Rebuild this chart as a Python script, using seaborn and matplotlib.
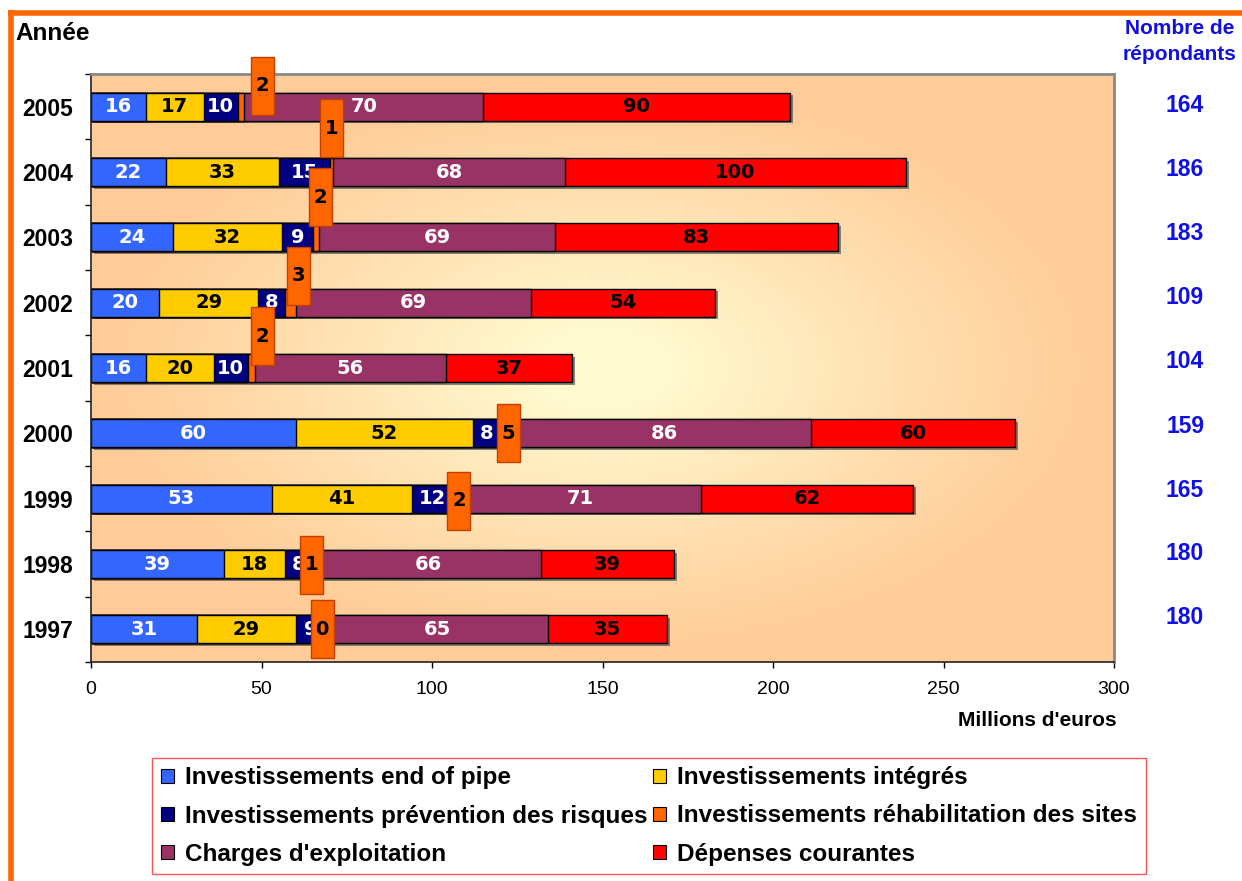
import numpy as np
import pandas as pd
import matplotlib
matplotlib.use("Agg")
import matplotlib.pyplot as plt
import matplotlib.patheffects as pe
from matplotlib.patches import Rectangle, Patch
from matplotlib.lines import Line2D
import seaborn as sns

# ---------------- data ----------------
years = ["2005", "2004", "2003", "2002", "2001", "2000", "1999", "1998", "1997"]
end_of_pipe = [16, 22, 24, 20, 16, 60, 53, 39, 31]
integres = [17, 33, 32, 29, 20, 52, 41, 18, 29]
prevention = [10, 15, 9, 8, 10, 8, 12, 8, 9]
rehabilitation = [2, 1, 2, 3, 2, 5, 2, 1, 0]
charges = [70, 68, 69, 69, 56, 86, 71, 66, 65]
depenses = [90, 100, 83, 54, 37, 60, 62, 39, 35]
respondents = [164, 186, 183, 109, 104, 159, 165, 180, 180]

series_names = [
    "Investissements end of pipe",
    "Investissements intégrés",
    "Investissements prévention des risques",
    "Investissements réhabilitation des sites",
    "Charges d'exploitation",
    "Dépenses courantes",
]
x_ticks = [0, 50, 100, 150, 200, 250, 300]

# ---------------- styles ----------------
colors = ["#3366FF", "#FFCC00", "#000080", "#FF6600", "#993366", "#FF0000"]
text_colors = ["white", "black", "white", "black", "white", "black"]
# manual shift of the réhabilitation label boxes (pixels: right, down)
rehab_shift_px = [(21, -21), (0, -44), (4, -40), (8, -27), (11, -32),
                  (0, 0), (3, 2), (-3, 1), (-4, 0)]

sns.set_theme(style="white")
plt.rcParams["font.family"] = ["Liberation Sans", "DejaVu Sans"]
for key in ["text.color", "axes.labelcolor", "xtick.color", "ytick.color"]:
    plt.rcParams[key] = "black"

W, H = 1242, 881
fig = plt.figure(figsize=(W / 100, H / 100), dpi=100)
fig.patch.set_facecolor("white")
ax_l, ax_r, ax_t, ax_b = 91, 1114, 74, 662
ax = fig.add_axes([ax_l / W, 1 - ax_b / H, (ax_r - ax_l) / W, (ax_b - ax_t) / H])

df = pd.DataFrame({
    "year": years,
    series_names[0]: end_of_pipe,
    series_names[1]: integres,
    series_names[2]: prevention,
    series_names[3]: rehabilitation,
    series_names[4]: charges,
    series_names[5]: depenses,
})
vals = df[series_names].to_numpy().T  # (6, 9)
cum = np.cumsum(vals, axis=0)
for k in range(6):
    df[f"cum{k}"] = cum[k]

# background radial gradient
ny, nx = 300, 500
gx, gy = np.meshgrid(np.linspace(-1, 1, nx), np.linspace(-1, 1, ny))
d = np.sqrt(gx ** 2 + gy ** 2)
t = np.clip((d - 0.12) / 0.85, 0, 1) ** 0.9
c0 = np.array([255, 251, 208]) / 255
c1 = np.array([255, 204, 153]) / 255
img = c0[None, None, :] * (1 - t[..., None]) + c1[None, None, :] * t[..., None]
ax.imshow(img, extent=(0, 300, 8.5, -0.5), aspect="auto", zorder=0)

# stacked bars: overlay cumulative totals from largest to smallest
for k in reversed(range(6)):
    n_before = len(ax.patches)
    sns.barplot(data=df, x=f"cum{k}", y="year", order=years, orient="h",
                color=colors[k], saturation=1, width=0.43,
                edgecolor="black", linewidth=1.0, ax=ax, zorder=2)
    if k == 5:
        for p in ax.patches[n_before:]:
            p.set_path_effects([pe.SimplePatchShadow(offset=(2, -2), shadow_rgbFace="#555555", alpha=0.7),
                                pe.Normal()])

px_per_x = (ax_r - ax_l) / 300
px_per_y = (ax_b - ax_t) / 9

# value labels
for k in range(6):
    if k == 3:
        continue
    for i in range(len(years)):
        v = vals[k][i]
        ax.text(cum[k][i] - v / 2, i, f"{v}", ha="center", va="center",
                color=text_colors[k], fontsize=14, fontweight="bold",
                family="DejaVu Sans", zorder=4)

# réhabilitation labels in orange boxes
bw, bh = 23 / px_per_x, 58 / px_per_y
for i in range(len(years)):
    v = rehabilitation[i]
    dx, dy = rehab_shift_px[i]
    xc = cum[3][i] - v / 2 + dx / px_per_x
    yc = i + dy / px_per_y
    ax.add_patch(Rectangle((xc - bw / 2, yc - bh / 2), bw, bh, facecolor=colors[3],
                           edgecolor="#C04000", linewidth=1, zorder=5, clip_on=False))
    ax.text(xc, yc, f"{v}", ha="center", va="center", color="black",
            fontsize=14, fontweight="bold", family="DejaVu Sans", zorder=6, clip_on=False)

ax.set_xlim(0, 300)
ax.set_ylim(8.5, -0.5)
ax.set_xlabel("")
ax.set_ylabel("")
ax.set_xticks(x_ticks)
ax.set_xticklabels([str(v) for v in x_ticks], fontsize=14)
ax.set_yticks(range(len(years)))
ax.set_yticklabels(years, fontsize=16.5, fontweight="bold")
ax.set_yticks(np.arange(-0.5, len(years) + 0.5, 1), minor=True)
ax.tick_params(axis="y", which="major", length=0, pad=13)
ax.tick_params(axis="y", which="minor", length=4, width=1, color="black", direction="out", left=True)
ax.tick_params(axis="x", which="major", length=4, width=1, color="black", direction="out", bottom=True, pad=10)
ax.grid(False)
for s in ["left", "bottom"]:
    ax.spines[s].set_color("#222222")
    ax.spines[s].set_linewidth(1.2)
for s in ["top", "right"]:
    ax.spines[s].set_color("#888888")
    ax.spines[s].set_linewidth(2)

# texts
fig.text(15 / W, 1 - 33 / H, "Année", fontsize=17.5, fontweight="bold", va="center", ha="left")
fig.text(1117 / W, 1 - 720 / H, "Millions d'euros", fontsize=15, fontweight="bold", va="center", ha="right")
blue = "#0F0FE6"
fig.text(1180 / W, 1 - 28 / H, "Nombre de", fontsize=15, fontweight="bold", va="center", ha="center", color=blue)
fig.text(1180 / W, 1 - 54 / H, "répondants", fontsize=15, fontweight="bold", va="center", ha="center", color=blue)
for i, r in enumerate(respondents):
    fig.text(1185 / W, 1 - (106 + i * 64) / H, f"{r}", fontsize=16.5, fontweight="bold",
             va="center", ha="center", color=blue)

# orange frame
fig.add_artist(Line2D([10.8 / W, 10.8 / W], [0, 1 - 10.3 / H], transform=fig.transFigure,
                      color="#FF6600", linewidth=4, solid_capstyle="butt"))
fig.add_artist(Line2D([8.3 / W, 1], [1 - 12.8 / H, 1 - 12.8 / H], transform=fig.transFigure,
                      color="#FF6600", linewidth=4, solid_capstyle="butt"))

# legend (row order: left col then right col)
order = [0, 2, 4, 1, 3, 5]
handles = [Patch(facecolor=colors[k], edgecolor="black", linewidth=0.8, label=series_names[k]) for k in order]
leg = fig.legend(handles=handles, loc="center", ncol=2, mode="expand",
                 bbox_to_anchor=(145 / W, 1 - 878 / H, 1008 / W, 124 / H),
                 bbox_transform=fig.transFigure, prop={"weight": "bold", "size": 17.5},
                 handlelength=0.55, handleheight=0.55, handletextpad=0.45,
                 labelspacing=0.62, borderpad=0.35, borderaxespad=0.3, fancybox=False, framealpha=1,
                 edgecolor="#FF5555", facecolor="white", columnspacing=0.3)
leg.get_frame().set_linewidth(1)

fig.savefig("out.png", dpi=100, facecolor="white")
